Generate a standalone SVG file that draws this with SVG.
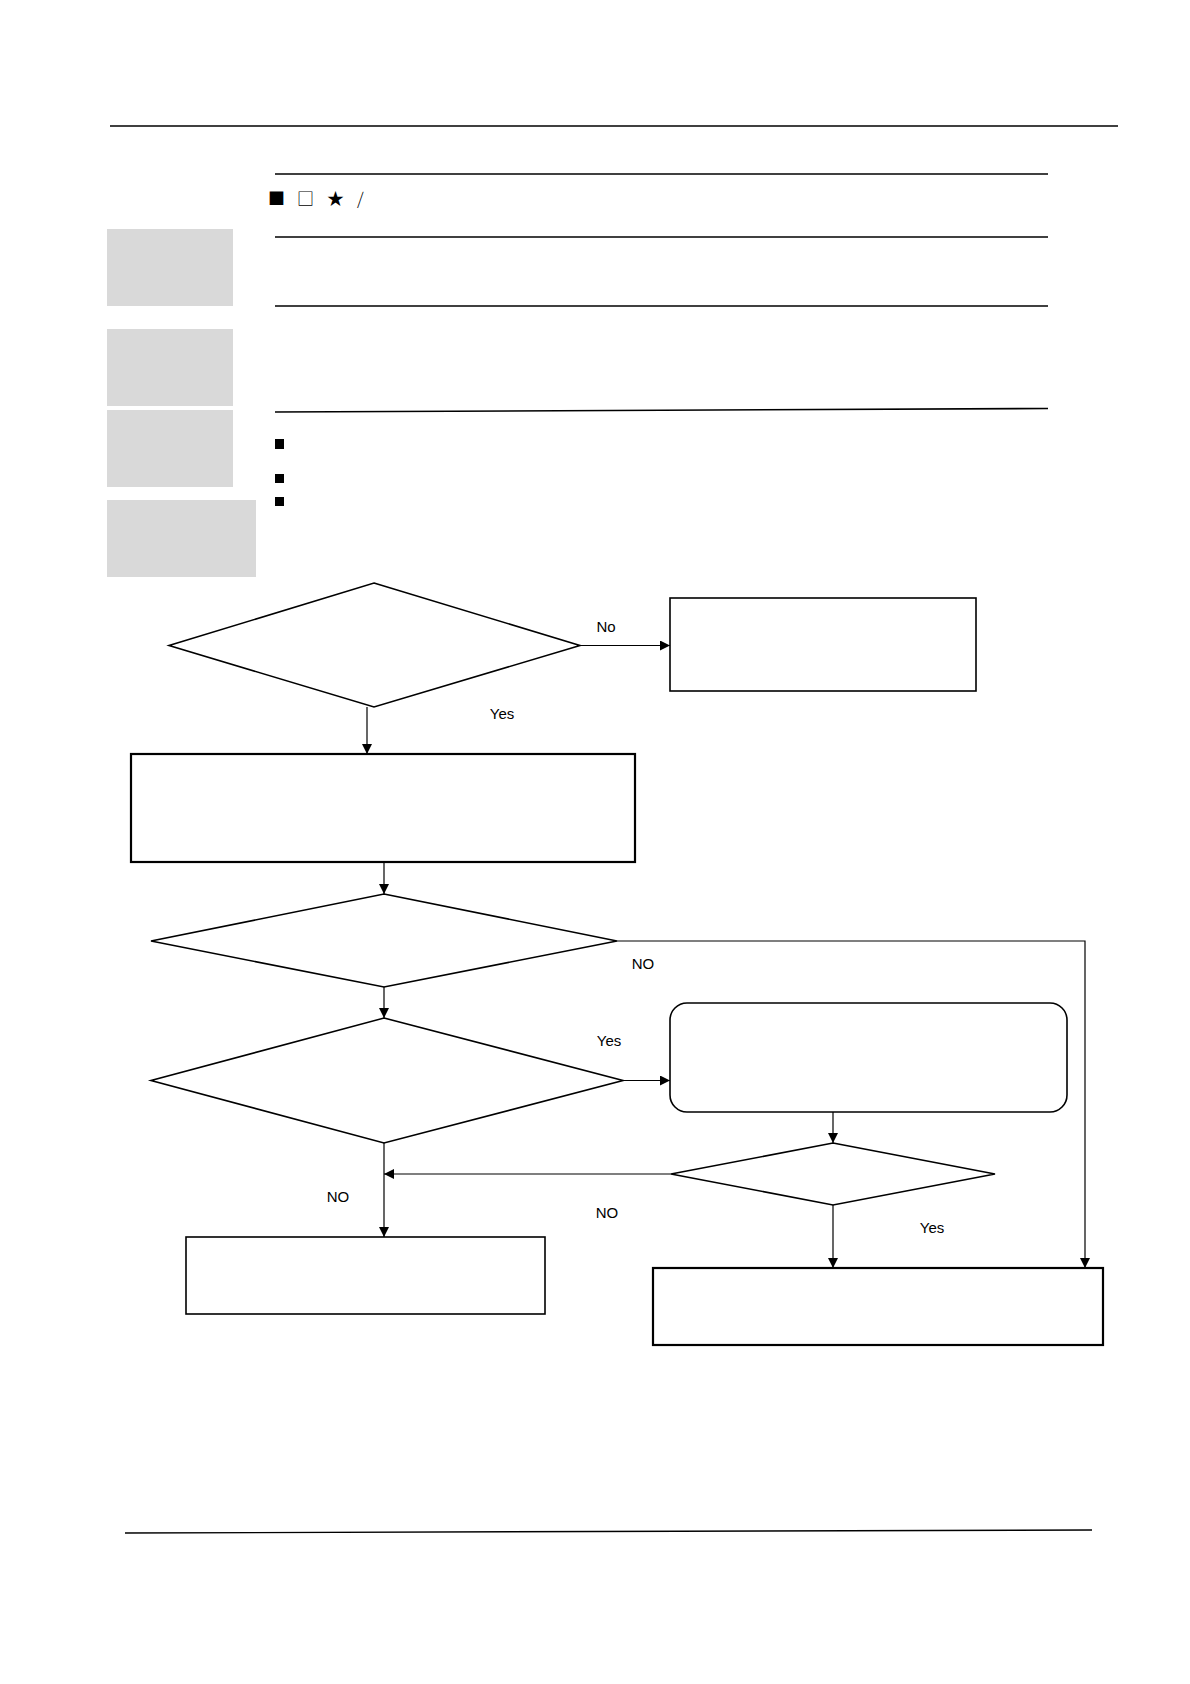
<svg xmlns="http://www.w3.org/2000/svg" width="1190" height="1684" viewBox="0 0 1190 1684">
<defs>
<style>
.rule{stroke:#000;stroke-width:1.6;fill:none}
.gray{fill:#d9d9d9}
.shape{fill:#fff;stroke:#000;stroke-width:1.6}
.thick{fill:#fff;stroke:#000;stroke-width:2.2}
.conn{stroke:#000;stroke-width:1.2;fill:none}
.lbl{font-family:"Liberation Sans",Arial,sans-serif;font-size:15px;fill:#000;text-anchor:middle}
.sym{font-family:"Noto Sans CJK SC","DejaVu Sans",sans-serif;font-size:17px;fill:#000}
</style>
<marker id="ah" viewBox="0 0 10 10" refX="10" refY="5" markerWidth="11" markerHeight="10" markerUnits="userSpaceOnUse" orient="auto">
<path d="M0,0 L10,5 L0,10 z" fill="#000"/>
</marker>
</defs>
<rect width="1190" height="1684" fill="#fff"/>
<g id="header">
<line class="rule" x1="110" y1="126" x2="1118" y2="126" style="stroke-width:1.5"/>
<line class="rule" x1="275" y1="174" x2="1048" y2="174"/>
<text class="sym" x="268" y="205">■</text>
<text class="sym" x="297" y="205">□</text>
<text class="sym" x="327" y="205">★</text>
<text class="sym" x="357" y="205" style="font-weight:300">/</text>
<line class="rule" x1="275" y1="237" x2="1048" y2="237"/>
<line class="rule" x1="275" y1="306" x2="1048" y2="306"/>
<line class="rule" x1="275" y1="412" x2="1048" y2="408.5"/>
<rect class="gray" x="107" y="229" width="126" height="77"/>
<rect class="gray" x="107" y="329" width="126" height="77"/>
<rect class="gray" x="107" y="410" width="126" height="77"/>
<rect class="gray" x="107" y="500" width="149" height="77"/>
<rect x="275" y="439" width="9" height="10" fill="#000"/>
<rect x="275" y="474" width="9" height="9" fill="#000"/>
<rect x="275" y="497" width="9" height="9" fill="#000"/>
</g>
<g id="d1"><polygon class="shape" points="374,583 580,645.5 374,707 169,645.5"/></g>
<g id="b1"><rect class="shape" x="670" y="598" width="306" height="93"/></g>
<g id="b2"><rect class="thick" x="131" y="754" width="504" height="108"/></g>
<g id="d2"><polygon class="shape" points="384,894 617,941 384,987 151,941"/></g>
<g id="d3"><polygon class="shape" points="384,1018 623,1080.5 384,1143 151,1080.5"/></g>
<g id="rb"><rect class="shape" x="670" y="1003" width="397" height="109" rx="17" ry="17"/></g>
<g id="d4"><polygon class="shape" points="833,1143 995,1174 833,1205 671,1174"/></g>
<g id="b3"><rect class="shape" x="186" y="1237" width="359" height="77"/></g>
<g id="b5"><rect class="thick" x="653" y="1268" width="450" height="77"/></g>
<g id="connectors">
<line class="conn" x1="580" y1="645.5" x2="670" y2="645.5" marker-end="url(#ah)"/>
<line class="conn" x1="367" y1="707" x2="367" y2="754" marker-end="url(#ah)"/>
<line class="conn" x1="384" y1="862" x2="384" y2="894" marker-end="url(#ah)"/>
<polyline class="conn" points="617,941 1085,941 1085,1268" marker-end="url(#ah)"/>
<line class="conn" x1="384" y1="987" x2="384" y2="1018" marker-end="url(#ah)"/>
<line class="conn" x1="623" y1="1080.5" x2="670" y2="1080.5" marker-end="url(#ah)"/>
<line class="conn" x1="833" y1="1112" x2="833" y2="1143" marker-end="url(#ah)"/>
<line class="conn" x1="671" y1="1174" x2="384" y2="1174" marker-end="url(#ah)"/>
<line class="conn" x1="384" y1="1143" x2="384" y2="1237" marker-end="url(#ah)"/>
<line class="conn" x1="833" y1="1205" x2="833" y2="1268" marker-end="url(#ah)"/>
</g>
<g id="labels">
<text class="lbl" x="606" y="632">No</text>
<text class="lbl" x="502" y="719">Yes</text>
<text class="lbl" x="643" y="969">NO</text>
<text class="lbl" x="609" y="1046">Yes</text>
<text class="lbl" x="338" y="1202">NO</text>
<text class="lbl" x="607" y="1218">NO</text>
<text class="lbl" x="932" y="1233">Yes</text>
</g>
<g id="footer">
<line class="rule" x1="125" y1="1533" x2="1092" y2="1530" style="stroke-width:1.4"/>
</g>
</svg>
